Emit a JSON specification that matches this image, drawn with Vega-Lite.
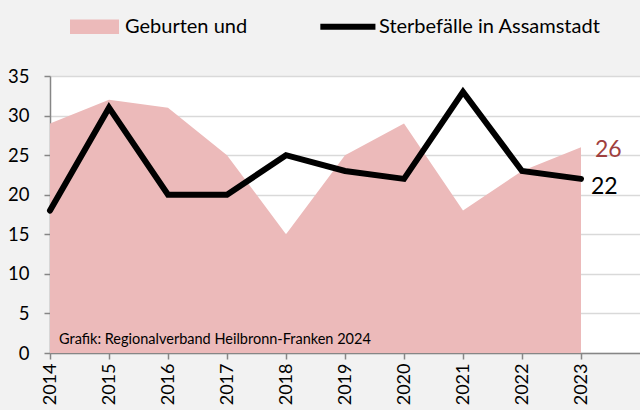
{
  "$schema": "https://vega.github.io/schema/vega-lite/v6.json",
  "autosize": "none",
  "width": 590,
  "height": 277,
  "padding": {"left": 50, "top": 76, "right": 0, "bottom": 57},
  "background": "#f2f2f2",
  "config": {
    "view": {"fill": "white", "stroke": null},
    "font": "Lato",
    "axis": {"labelFont": "Lato", "labelColor": "#000000", "domainColor": "#868686", "tickColor": "#868686", "domainWidth": 1.5, "tickWidth": 1.5}
  },
  "data": {
    "values": [
      {"jahr": 2014, "serie": "Geburten und", "wert": 29},
      {"jahr": 2015, "serie": "Geburten und", "wert": 32},
      {"jahr": 2016, "serie": "Geburten und", "wert": 31},
      {"jahr": 2017, "serie": "Geburten und", "wert": 25},
      {"jahr": 2018, "serie": "Geburten und", "wert": 15},
      {"jahr": 2019, "serie": "Geburten und", "wert": 25},
      {"jahr": 2020, "serie": "Geburten und", "wert": 29},
      {"jahr": 2021, "serie": "Geburten und", "wert": 18},
      {"jahr": 2022, "serie": "Geburten und", "wert": 23},
      {"jahr": 2023, "serie": "Geburten und", "wert": 26},
      {"jahr": 2014, "serie": "Sterbefälle in Assamstadt", "wert": 18},
      {"jahr": 2015, "serie": "Sterbefälle in Assamstadt", "wert": 31},
      {"jahr": 2016, "serie": "Sterbefälle in Assamstadt", "wert": 20},
      {"jahr": 2017, "serie": "Sterbefälle in Assamstadt", "wert": 20},
      {"jahr": 2018, "serie": "Sterbefälle in Assamstadt", "wert": 25},
      {"jahr": 2019, "serie": "Sterbefälle in Assamstadt", "wert": 23},
      {"jahr": 2020, "serie": "Sterbefälle in Assamstadt", "wert": 22},
      {"jahr": 2021, "serie": "Sterbefälle in Assamstadt", "wert": 33},
      {"jahr": 2022, "serie": "Sterbefälle in Assamstadt", "wert": 23},
      {"jahr": 2023, "serie": "Sterbefälle in Assamstadt", "wert": 22}
    ]
  },
  "encoding": {
    "x": {
      "field": "jahr", "type": "quantitative",
      "scale": {"domain": [2014, 2024], "nice": false, "zero": false},
      "axis": {"title": null, "values": [2014, 2015, 2016, 2017, 2018, 2019, 2020, 2021, 2022, 2023], "format": "d", "labelAngle": -90, "labelAlign": "right", "labelBaseline": "middle", "labelFontSize": 18, "grid": false, "tickSize": 6, "labelPadding": 4, "labelOverlap": false}
    },
    "y": {
      "field": "wert", "type": "quantitative",
      "scale": {"domain": [0, 35], "nice": false},
      "axis": {"title": null, "values": [0, 5, 10, 15, 20, 25, 30, 35], "labelFontSize": 18.5, "gridColor": "#d9d9d9", "gridWidth": 1.5, "tickSize": 6, "labelPadding": 15, "labelOverlap": false}
    }
  },
  "layer": [
    {
      "transform": [{"filter": "datum.serie == 'Geburten und'"}],
      "mark": {"type": "area", "opacity": 1},
      "encoding": {
        "y": {
          "field": "wert", "type": "quantitative", "stack": null,
          "scale": {"domain": [0, 35], "nice": false},
          "axis": {"title": null, "values": [0, 5, 10, 15, 20, 25, 30, 35], "labelFontSize": 18.5, "gridColor": "#d9d9d9", "gridWidth": 1.5, "tickSize": 6, "labelPadding": 15, "labelOverlap": false}
        },
        "color": {
          "field": "serie",
          "type": "nominal",
          "scale": {"domain": ["Geburten und", "Sterbefälle in Assamstadt"], "range": ["#ecbaba", "#000000"]},
          "legend": {
            "orient": "none", "legendX": 20, "legendY": -74, "direction": "horizontal",
            "title": null, "labelFontSize": 20, "labelFont": "Lato", "labelColor": "#000000", "labelLimit": 500,
            "symbolType": "M-1,-0.3H1V0.3H-1Z", "symbolSize": 2400, "symbolStrokeWidth": 0, "symbolOpacity": 1,
            "columnPadding": 72, "labelOffset": 6,
            "encode": {"symbols": {"update": {"shape": {"signal": "datum.value == 'Geburten und' ? 'M-1,-0.3H1V0.3H-1Z' : 'M-1.15,-0.12H1.1V0.12H-1.15Z'"}, "fill": {"signal": "datum.value == 'Geburten und' ? '#ecbaba' : '#000000'"}, "strokeWidth": {"value": 0}}}}
          }
        }
      }
    },
    {
      "transform": [{"filter": "datum.serie != 'Geburten und'"}],
      "mark": {"type": "line", "strokeWidth": 6, "strokeJoin": "miter", "strokeCap": "round"},
      "encoding": {
        "color": {"field": "serie", "type": "nominal"}
      }
    },
    {
      "transform": [{"filter": "datum.jahr == 2023 && datum.serie == 'Geburten und'"}],
      "mark": {"type": "text", "align": "left", "baseline": "middle", "dx": 14, "dy": 3, "fontSize": 23, "color": "#a0403e", "font": "Lato"},
      "encoding": {"text": {"field": "wert"}}
    },
    {
      "transform": [{"filter": "datum.jahr == 2023 && datum.serie != 'Geburten und'"}],
      "mark": {"type": "text", "align": "left", "baseline": "middle", "dx": 10, "dy": 8, "fontSize": 23, "color": "#000000", "font": "Lato"},
      "encoding": {"text": {"field": "wert"}}
    },
    {
      "transform": [{"filter": "datum.jahr == 2014 && datum.serie == 'Geburten und'"}],
      "mark": {"type": "text", "align": "left", "baseline": "middle", "dx": 9, "dy": -13, "fontSize": 14.5, "color": "#000000", "font": "Lato", "text": "Grafik: Regionalverband Heilbronn-Franken 2024"},
      "encoding": {"y": {"datum": 0, "type": "quantitative"}}
    }
  ]
}
